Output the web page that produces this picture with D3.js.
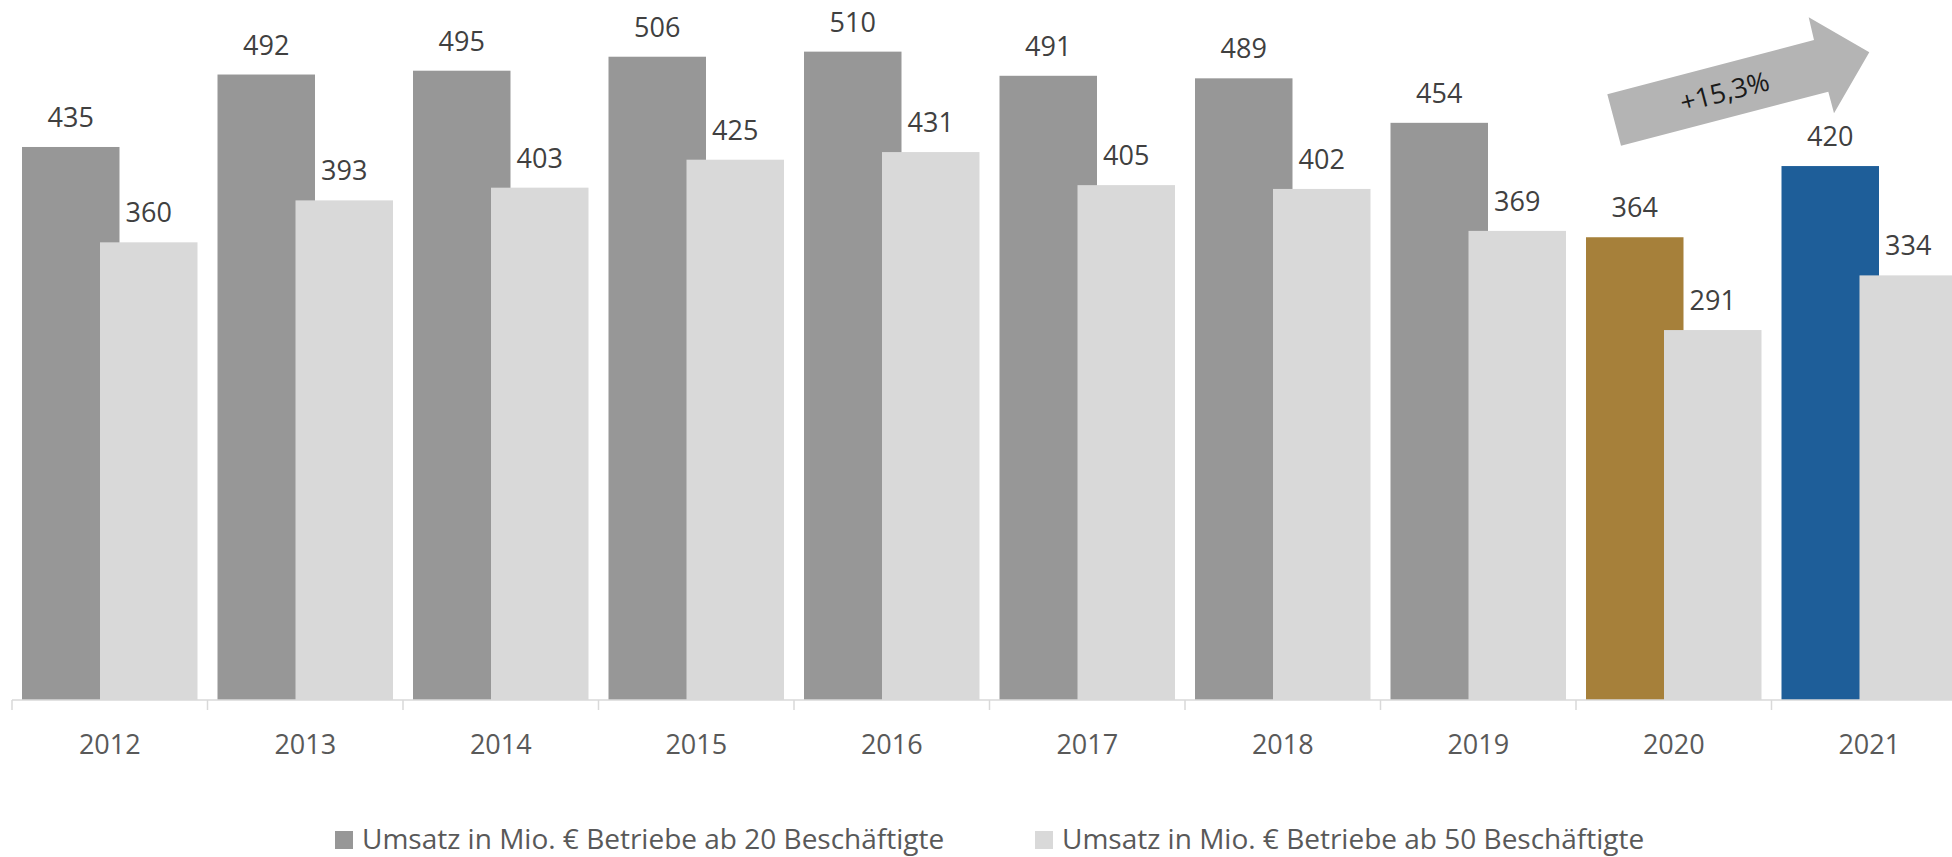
<!DOCTYPE html>
<html>
<head>
<meta charset="utf-8">
<script src="https://cdn.jsdelivr.net/npm/d3@7"></script>
<style>
  html, body { margin: 0; padding: 0; background: #fff; overflow: hidden; }
  svg { display: block; font-family: "Open Sans", "Noto Sans", sans-serif; }
</style>
</head>
<body>
<svg id="chart" width="1952" height="857"></svg>
<script>
const years = ["2012","2013","2014","2015","2016","2017","2018","2019","2020","2021"];
const ab20 = [435, 492, 495, 506, 510, 491, 489, 454, 364, 420];
const ab50 = [360, 393, 403, 425, 431, 405, 402, 369, 291, 334];
const seriesNames = ["Umsatz in Mio. € Betriebe ab 20 Beschäftigte", "Umsatz in Mio. € Betriebe ab 50 Beschäftigte"];
const arrowLabel = "+15,3%";

const colDark = "#979797", colLight = "#d9d9d9";
const highlight = { "2020": "#a6803a", "2021": "#1e5e99" };

const svg = d3.select("#chart");
const baseY = 700;
const step = 195.5;
const x0 = 12;

const x = d3.scaleBand().domain(years).range([x0, x0 + step * years.length]).paddingInner(0).paddingOuter(0);
const y = d3.scaleLinear().domain([0, 600]).range([baseY, baseY - 600 * 1.2713]);

const barW = 97.5;
const offDark = 10, offLight = 88;

const g = svg.append("g");

// axis
const axis = d3.axisBottom(x).tickSize(0).tickFormat(d => d);
const ax = svg.append("g").attr("transform", `translate(0,${baseY})`).call(axis);
ax.select(".domain").attr("stroke", "#d9d9d9").attr("stroke-width", 1.5).attr("d", `M${x0},0H1952`);
ax.selectAll(".tick text").attr("y", 0).attr("dy", 0).attr("transform", "translate(0,54)")
  .attr("font-size", 27).attr("fill", "#595959").attr("font-family", "Open Sans, sans-serif");
// tick marks at band boundaries
ax.selectAll(".bnd").data(years.concat(["end"])).enter().append("line")
  .attr("x1", (d, i) => x0 + i * step).attr("x2", (d, i) => x0 + i * step)
  .attr("y1", 0).attr("y2", 10).attr("stroke", "#d9d9d9").attr("stroke-width", 1.5);

// bars
const grp = g.selectAll(".grp").data(years).enter().append("g");
grp.append("rect")
  .attr("x", d => x(d) + offDark)
  .attr("y", (d, i) => y(ab20[i]))
  .attr("width", barW)
  .attr("height", (d, i) => baseY - y(ab20[i]))
  .attr("fill", d => highlight[d] || colDark);
grp.append("rect")
  .attr("x", d => x(d) + offLight)
  .attr("y", (d, i) => y(ab50[i]))
  .attr("width", barW)
  .attr("height", (d, i) => baseY - y(ab50[i]))
  .attr("fill", colLight);

// value labels
grp.append("text")
  .attr("x", d => x(d) + offDark + barW / 2)
  .attr("y", (d, i) => y(ab20[i]) - 20)
  .attr("text-anchor", "middle").attr("font-size", 27).attr("fill", "#404040")
  .text((d, i) => ab20[i]);
grp.append("text")
  .attr("x", d => x(d) + offLight + barW / 2)
  .attr("y", (d, i) => y(ab50[i]) - 20)
  .attr("text-anchor", "middle").attr("font-size", 27).attr("fill", "#404040")
  .text((d, i) => ab50[i]);

// arrow
const arrowPts = [[1621,145.7],[1607.3,94.3],[1814,40],[1808.7,17.3],[1869.3,52.3],[1834,113.3],[1828.3,91.7]];
svg.append("path").attr("d", d3.line()(arrowPts) + "Z").attr("fill", "#b4b4b4");
svg.append("text").attr("transform", "translate(1727,101) rotate(-14.6)")
  .attr("text-anchor", "middle").attr("font-size", 27).attr("fill", "#1a1a1a").text(arrowLabel);

// legend
const legX = [335, 1035];
const leg = svg.selectAll(".leg").data(seriesNames).enter().append("g")
  .attr("transform", (d, i) => `translate(${legX[i]},0)`);
leg.append("rect").attr("x", 0).attr("y", 831).attr("width", 18).attr("height", 18)
  .attr("fill", (d, i) => i === 0 ? colDark : colLight);
leg.append("text").attr("x", 27).attr("y", 849).attr("font-size", 28).attr("fill", "#595959").text(d => d);
</script>
</body>
</html>
